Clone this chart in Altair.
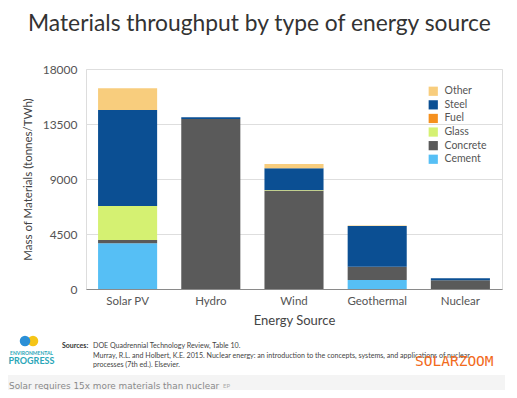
import altair as alt
import pandas as pd

sources = ["Solar PV", "Hydro", "Wind", "Geothermal", "Nuclear"]
materials_legend = ["Other", "Steel", "Fuel", "Glass", "Concrete", "Cement"]
colors = ["#f8cd7d", "#0b4f93", "#f5901e", "#d5f172", "#5a5a5a", "#56bff5"]

cement = [3740, 0, 0, 740, 0]
concrete = [270, 13900, 8050, 1090, 720]
glass = [2780, 0, 60, 0, 0]
fuel = [0, 0, 0, 0, 0]
steel = [7860, 150, 1760, 3320, 150]
other = [1770, 0, 360, 40, 0]

series = {"Cement": cement, "Concrete": concrete, "Glass": glass,
          "Fuel": fuel, "Steel": steel, "Other": other}
stack_rank = {"Cement": 0, "Concrete": 1, "Glass": 2, "Fuel": 3, "Steel": 4, "Other": 5}

rows = []
for mat, vals in series.items():
    for src, v in zip(sources, vals):
        rows.append({"source": src, "material": mat, "value": v, "rank": stack_rank[mat]})
df = pd.DataFrame(rows)

FONT = "Lato"

bars = alt.Chart(df).mark_bar().encode(
    x=alt.X("source:N", sort=sources, title="Energy Source",
            scale=alt.Scale(paddingInner=0.29, paddingOuter=0.145),
            axis=alt.Axis(labelAngle=0, ticks=False, labelPadding=6, titlePadding=8,
                          domainColor="#8a8a8a", labelFontSize=11.5, titleFontSize=13,
                          labelColor="#555555", titleColor="#444444",
                          titleFontWeight="normal", labelFont=FONT, titleFont=FONT)),
    y=alt.Y("value:Q", stack="zero", title="Mass of Materials (tonnes/TWh)",
            scale=alt.Scale(domain=[0, 18000], nice=False),
            axis=alt.Axis(values=[0, 4500, 9000, 13500, 18000], format="d",
                          domain=False, ticks=False,
                          labelPadding=9, titlePadding=9, gridColor="#dedede",
                          labelFontSize=12, titleFontSize=11.5, labelColor="#555555",
                          titleColor="#444444", titleFontWeight="normal",
                          labelFont=FONT, titleFont=FONT)),
    color=alt.Color("material:N",
                    scale=alt.Scale(domain=materials_legend, range=colors),
                    legend=alt.Legend(orient="none", legendX=342, legendY=17, title=None,
                                      symbolType="square", symbolSize=85,
                                      symbolStrokeWidth=0, labelFontSize=10.5,
                                      labelColor="#555555", labelFont=FONT,
                                      rowPadding=2.6, labelOffset=6, padding=0)),
    order=alt.Order("rank:Q", sort="ascending"),
)

def txt(text, x, y, size, color="#333333", weight="normal", font=FONT, align="left",
        baseline="middle"):
    return alt.Chart(pd.DataFrame({"t": [text]})).mark_text(
        align=align, baseline=baseline, fontSize=size, color=color,
        fontWeight=weight, font=font
    ).encode(text="t:N", x=alt.value(x), y=alt.value(y))

strip = alt.Chart(pd.DataFrame({"a": [0]})).mark_rect(color="#f4f4f4").encode(
    x=alt.value(-78), x2=alt.value(419), y=alt.value(306), y2=alt.value(321))

logo_a = alt.Chart(pd.DataFrame({"a": [0]})).mark_circle(size=110, color="#2b8fd6", opacity=1).encode(
    x=alt.value(-61), y=alt.value(272))
logo_b = alt.Chart(pd.DataFrame({"a": [0]})).mark_circle(size=110, color="#f5c518", opacity=1).encode(
    x=alt.value(-53), y=alt.value(272))

layers = [
    strip,
    bars,
    txt("Materials throughput by type of energy source", -58, -38, 22.8, "#333333",
        baseline="alphabetic"),
    logo_b, logo_a,
    txt("ENVIRONMENTAL", -54.5, 284, 5, "#2aa6b8", "bold", align="center"),
    txt("PROGRESS", -54.5, 292, 9, "#2aa6b8", "bold", align="center"),
    txt("Sources:", -24, 277, 7, "#333333", "bold"),
    txt("DOE Quadrennial Technology Review, Table 10.", 7, 277, 7.1, "#444444"),
    txt("Murray, R.L. and Holbert, K.E. 2015. Nuclear energy: an introduction to the concepts, "
        "systems, and applications of nuclear", 7, 287, 7.1, "#444444"),
    txt("processes (7th ed.). Elsevier.", 7, 296, 7.1, "#444444"),
    txt("SOLARZOOM", 329, 293, 14.5, "#f26a1b", font="DejaVu Sans Mono"),
    txt("Solar requires 15x more materials than nuclear", -77, 317, 8.9, "#8a8a8a",
        font="DejaVu Sans"),
    txt("EP", 137, 317, 6, "#aaaaaa"),
]

chart = alt.layer(*layers).properties(
    width=416, height=220,
    autosize=alt.AutoSizeParams(type="none"),
    padding={"left": 78, "top": 61, "right": 7, "bottom": 101},
).configure_view(stroke=None).configure(background="#ffffff")

chart.save("out.html", embed_options={"renderer": "svg", "actions": False})
